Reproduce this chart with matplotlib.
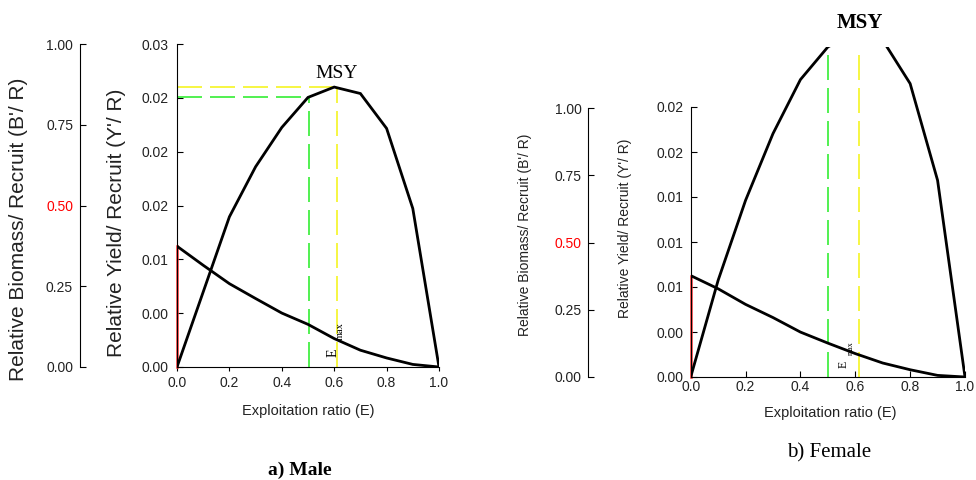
import matplotlib
matplotlib.use("Agg")
import matplotlib.pyplot as plt

plt.rcParams['font.family'] = ['Liberation Sans', 'DejaVu Sans']

# ---------------- data ----------------
E = [0.0, 0.1, 0.2, 0.3, 0.4, 0.5, 0.6, 0.7, 0.8, 0.9, 1.0]
male_yield = [0.0, 0.00697, 0.01395, 0.0186, 0.02225, 0.02504, 0.0260, 0.0254, 0.02216, 0.01472, 0.0]
male_biomass = [0.374, 0.315, 0.258, 0.212, 0.167, 0.132, 0.088, 0.052, 0.028, 0.008, 0.0]
female_yield = [0.0, 0.00752, 0.01374, 0.01893, 0.02313, 0.02567, 0.0268, 0.0262, 0.02282, 0.0153, 0.0]
female_biomass = [0.377, 0.328, 0.270, 0.221, 0.167, 0.126, 0.087, 0.052, 0.027, 0.006, 0.0]

male_e50, male_y50 = 0.504, 0.02504
male_emax, male_msy = 0.611, 0.0260
female_e50, female_y50 = 0.502, 0.02567
female_emax, female_msy = 0.614, 0.0268

x_ticks = [0.0, 0.2, 0.4, 0.6, 0.8, 1.0]
x_ticklabels = ['0.0', '0.2', '0.4', '0.6', '0.8', '1.0']
bio_ticks = [0.0, 0.25, 0.5, 0.75, 1.0]
bio_ticklabels = ['0.00', '0.25', '0.50', '0.75', '1.00']
male_yticks = [0.0, 0.005, 0.01, 0.015, 0.02, 0.025, 0.03]
male_yticklabels = ['0.00', '0.00', '0.01', '0.02', '0.02', '0.02', '0.03']
female_yticks = [0.0, 0.0035, 0.007, 0.0105, 0.014, 0.0175, 0.021]
female_yticklabels = ['0.00', '0.00', '0.01', '0.01', '0.01', '0.02', '0.02']

W, H = 976, 480
fig = plt.figure(figsize=(W / 100, H / 100), dpi=100)
TICKC = '#222222'
GREEN = '#33ee33'
YELLOW = '#f5f522'
RED = '#ff3333'


def panel(left_px, right_px, bottom_px, top_px, ytop, bio_top, ytick_vals, ytick_labs,
          yld, bio, e50, y50, emax, msy, cfg):
    axw = right_px - left_px
    axh = bottom_px - top_px
    ax = fig.add_axes([left_px / W, 1 - bottom_px / H, axw / W, axh / H])
    ax.set_xlim(0, 1)
    ax.set_ylim(0, ytop)
    for s in ['top', 'right']:
        ax.spines[s].set_visible(False)
    for s in ['left', 'bottom']:
        ax.spines[s].set_linewidth(0.8)
        ax.spines[s].set_color('black')
    ax.spines['left'].set_bounds(0, ytick_vals[-1])
    ax.set_xticks(x_ticks)
    ax.set_xticklabels(x_ticklabels)
    ax.set_yticks(ytick_vals)
    ax.set_yticklabels(ytick_labs)
    ax.tick_params(axis='x', direction=cfg['xdir'], length=cfg['xlen'], width=0.8,
                   pad=cfg['xpad'], labelsize=10, labelcolor=TICKC)
    ax.tick_params(axis='y', direction='in', length=4, width=0.8,
                   pad=cfg['ypad'], labelsize=10, labelcolor=TICKC)
    ax.set_xlabel('Exploitation ratio (E)', fontsize=10.5, color=TICKC, va='center')
    ax.xaxis.set_label_coords(cfg['xlab'][0], cfg['xlab'][1])
    ax.set_ylabel("Relative Yield/ Recruit (Y'/ R)", fontsize=cfg['ylabfs'], color=TICKC,
                  va='center')
    ax.yaxis.set_label_coords(cfg['ylab'][0], cfg['ylab'][1])

    # reference lines
    dash = dict(lw=1.2, dashes=(15, 4.8))
    ax.plot([e50, e50], [0, y50], color=GREEN, **dash)
    ax.plot([emax, emax], [0, msy], color=YELLOW, **dash)
    if cfg['hlines']:
        ax.plot([0, e50], [y50, y50], color=GREEN, **dash)
        ax.plot([0, emax], [msy, msy], color=YELLOW, **dash)

    ax.plot(E, yld, color='black', lw=2, solid_joinstyle='miter', zorder=5)

    # biomass axis
    bx = ax.twinx()
    bx.set_ylim(0, bio_top)
    for s in ['top', 'right', 'bottom']:
        bx.spines[s].set_visible(False)
    bx.spines['left'].set_visible(True)
    bx.spines['left'].set_position(('axes', cfg['bio_off']))
    bx.spines['left'].set_bounds(0, 1)
    bx.spines['left'].set_linewidth(0.8)
    bx.yaxis.set_ticks_position('left')
    bx.yaxis.set_label_position('left')
    bx.set_yticks(bio_ticks)
    bx.set_yticklabels(bio_ticklabels)
    bx.tick_params(axis='y', direction='in', length=4, width=0.8,
                   pad=cfg['bpad'], labelsize=10, labelcolor=TICKC)
    bx.get_yticklabels()[2].set_color('#ff0000')
    bx.yaxis.get_major_ticks()[2].tick1line.set_color('#ff0000')
    bx.set_ylabel("Relative Biomass/ Recruit (B'/ R)", fontsize=cfg['blabfs'], color=TICKC,
                  va='center')
    bx.yaxis.set_label_coords(cfg['blab'][0], cfg['blab'][1])
    ax.plot([0, 0], [0, bio[0] * ytop / bio_top], color=RED, lw=1.8, zorder=2, clip_on=False)
    bx.plot(E, bio, color='black', lw=2, zorder=5)
    return ax


# ---- left panel: male ----
panel(177, 439, 367, 44, 0.03, 1.0, male_yticks, male_yticklabels,
      male_yield, male_biomass, male_e50, male_y50, male_emax, male_msy,
      dict(xdir='out', xlen=3, xpad=3.6, ypad=6.2, bpad=5.0,
           xlab=(0.5, (367 - 411) / 323), ylab=((116 - 177) / 262, (367 - 222.5) / 323),
           blab=((18 - 177) / 262, (367 - 229) / 323), ylabfs=15, blabfs=15,
           bio_off=(80 - 177) / 262, hlines=True))

# ---- right panel: female ----
ax2_top = 47
f_ytop = female_yticks[-1] * (377 - ax2_top) / (377 - 107)
f_btop = (377 - ax2_top) / (377 - 108)
panel(690.7, 965, 377, ax2_top, f_ytop, f_btop, female_yticks, female_yticklabels,
      female_yield, female_biomass, female_e50, female_y50, female_emax, female_msy,
      dict(xdir='in', xlen=4, xpad=2.0, ypad=5.3, bpad=4.5,
           xlab=((830 - 690.7) / 274.3, (377 - 413) / 330),
           ylab=((625 - 690.7) / 274.3, (377 - 228.5) / 330),
           blab=((525 - 690.7) / 274.3, (377 - 235) / 330), ylabfs=10, blabfs=10,
           bio_off=(588 - 690.7) / 274.3, hlines=False))

SERIF = ['Liberation Serif', 'DejaVu Serif']


def ftext(xp, yp, s, **kw):
    fig.text(xp / W, 1 - yp / H, s, ha='center', va='center', family=SERIF, **kw)


ftext(336.7, 73, 'MSY', fontsize=14)
ftext(859.7, 22.5, 'MSY', fontsize=15, fontweight='bold')
ftext(333, 352.5, 'E', fontsize=10, rotation=90)
ftext(340, 331, 'max', fontsize=7.5, rotation=90)
ftext(844, 364, 'E', fontsize=8.5, rotation=90)
ftext(851, 348, 'max', fontsize=5.8, rotation=90)
ftext(300, 470, 'a) Male', fontsize=14, fontweight='bold')
ftext(829, 453, 'b) Female', fontsize=15)

fig.savefig('out.png', dpi=100)
